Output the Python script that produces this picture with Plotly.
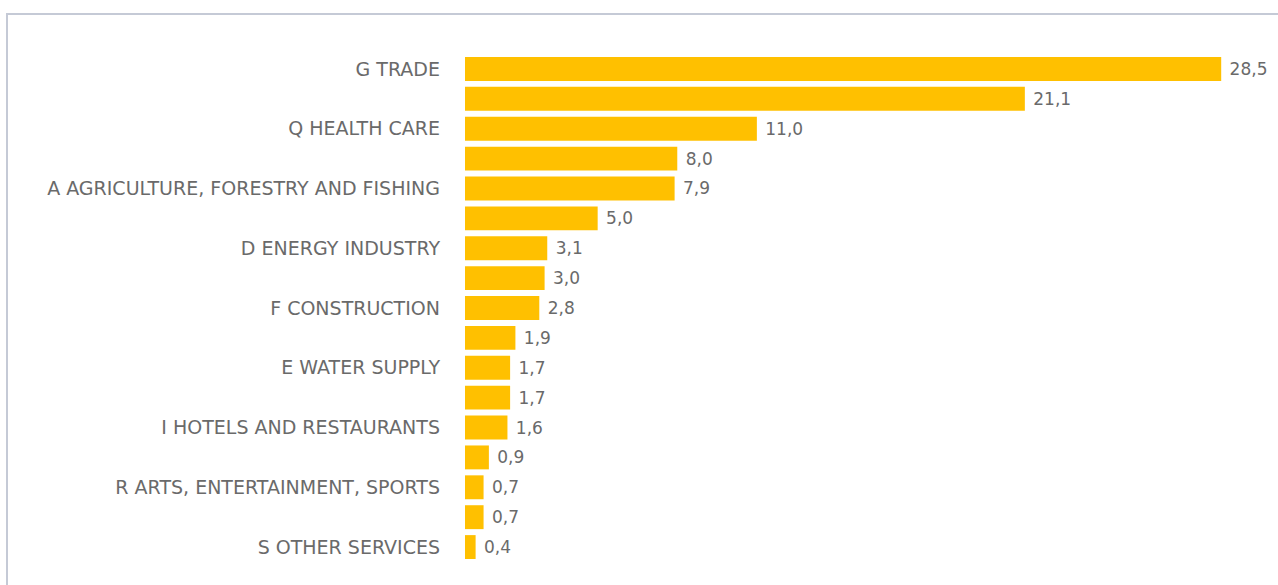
import plotly.graph_objects as go

# Share by economic sector (%), largest first
values = [28.5, 21.1, 11.0, 8.0, 7.9, 5.0, 3.1, 3.0, 2.8, 1.9, 1.7, 1.7, 1.6, 0.9, 0.7, 0.7, 0.4]
tick_labels = [
    "G TRADE", "",
    "Q HEALTH CARE", "",
    "A AGRICULTURE, FORESTRY AND FISHING", "",
    "D ENERGY INDUSTRY", "",
    "F CONSTRUCTION", "",
    "E WATER SUPPLY", "",
    "I HOTELS AND RESTAURANTS", "",
    "R ARTS, ENTERTAINMENT, SPORTS", "",
    "S OTHER SERVICES",
]
positions = list(range(len(values)))

W, H = 1278, 585
L, R, T, B = 465, 17, 54, 23
GOLD = "#FFC000"
GREY = "#6a6a6a"
FONT = "DejaVu Sans"

fig = go.Figure(
    go.Bar(
        x=values,
        y=positions,
        orientation="h",
        marker=dict(color=GOLD, line=dict(width=0)),
        texttemplate=" %{x:.1f}",
        textposition="outside",
        textfont=dict(family=FONT, size=17, color=GREY),
        cliponaxis=False,
        hoverinfo="skip",
    )
)

pw = W - L - R
ph = H - T - B
fig.update_layout(
    width=W,
    height=H,
    margin=dict(l=L, r=R, t=T, b=B),
    paper_bgcolor="white",
    plot_bgcolor="white",
    separators=",.",
    bargap=0.2,
    showlegend=False,
    font=dict(family=FONT, size=17, color=GREY),
    xaxis=dict(range=[0, 30], visible=False, fixedrange=True),
    yaxis=dict(
        tickmode="array",
        tickvals=positions,
        ticktext=tick_labels,
        range=[len(values) - 0.5, -0.5],
        showgrid=False,
        zeroline=False,
        showline=False,
        ticks="",
        ticklabelstandoff=24,
        tickfont=dict(family=FONT, size=19, color=GREY),
        fixedrange=True,
    ),
    # thin frame around the chart; only its top and left edges fall on the page
    shapes=[
        dict(
            type="rect",
            xref="paper",
            yref="paper",
            x0=(7 - L) / pw,
            x1=(W + 20 - L) / pw,
            y0=-(B + 20) / ph,
            y1=1 + (T - 14) / ph,
            line=dict(color="#C5CAD6", width=2),
            fillcolor="rgba(0,0,0,0)",
            layer="below",
        )
    ],
)

fig.write_html("out.html", config={"displayModeBar": False})
